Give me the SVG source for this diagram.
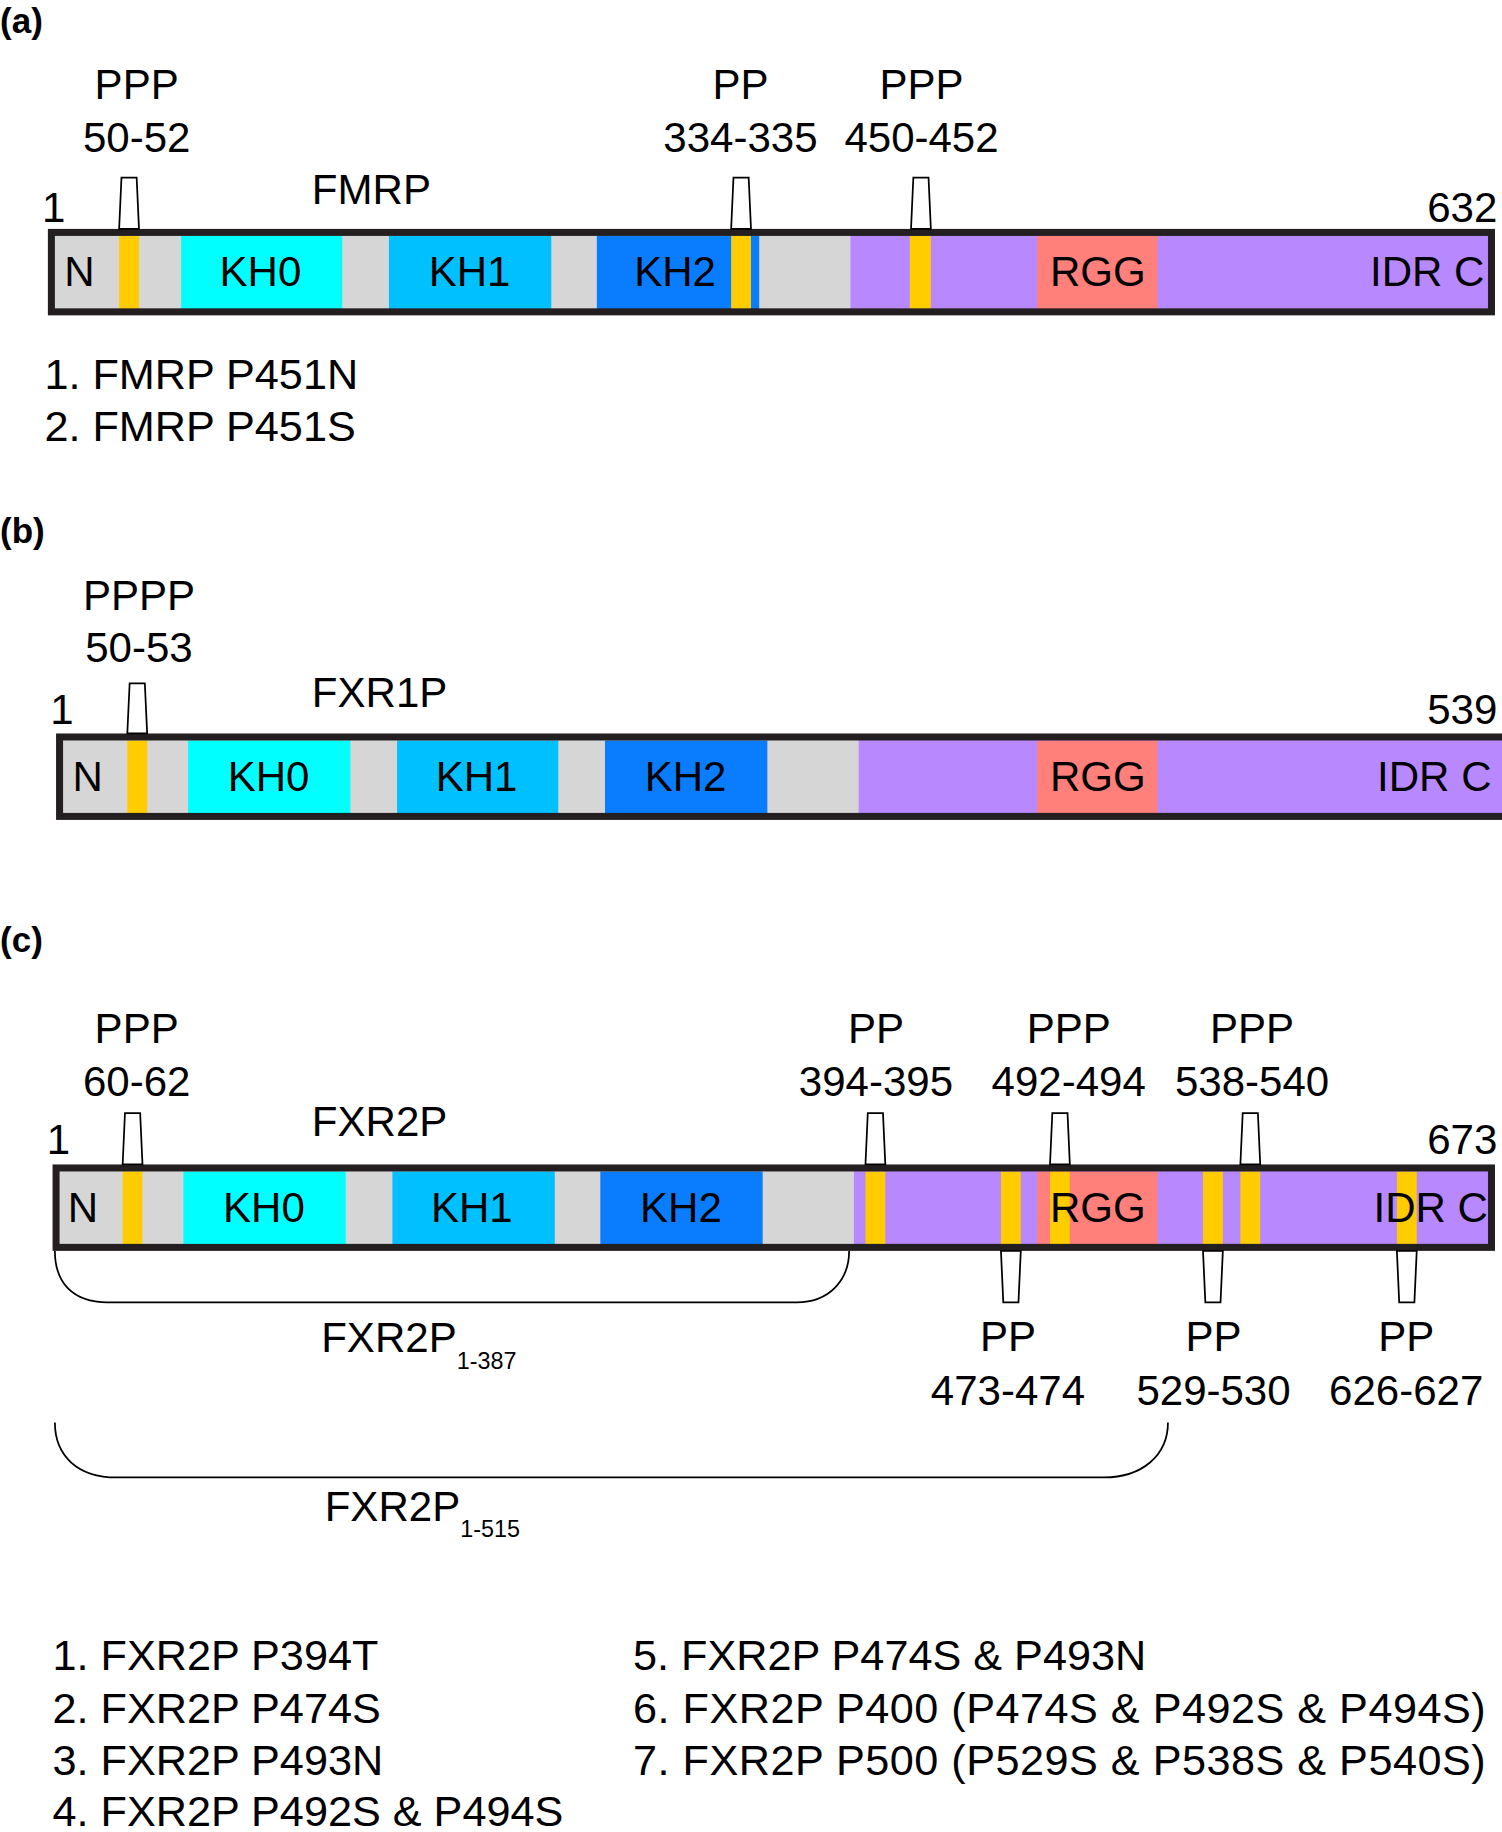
<svg xmlns="http://www.w3.org/2000/svg" width="1502" height="1832" viewBox="0 0 1502 1832">
<style>
text{font-family:"Liberation Sans",Arial,sans-serif;font-size:36px;fill:#000}
.m{text-anchor:middle}.e{text-anchor:end}
.p{font-weight:bold;font-size:30px}
.l{font-size:37px}
.bar{fill:none;stroke:#231f20;stroke-width:6}
.g{fill:#d6d6d6}.y{fill:#ffcc00}.k0{fill:#00ffff}.k1{fill:#00c0ff}.k2{fill:#0a7dff}.pu{fill:#b888ff}.r{fill:#ff7f7a}
.f{fill:#fff;stroke:#000;stroke-width:1.5}
.br{fill:none;stroke:#000;stroke-width:1.5}
.s{font-size:20px}
</style>
<rect width="1502" height="1832" fill="#fff"/>
<g transform="scale(1.16796)">
<g id="panel-a">
<text class="p" x="0" y="28">(a)</text>
<text class="m" x="117" y="85">PPP</text><text class="m" x="117" y="130">50-52</text>
<text class="m" x="634" y="85">PP</text><text class="m" x="634" y="130">334-335</text>
<text class="m" x="789" y="85">PPP</text><text class="m" x="789" y="130">450-452</text>
<text class="m" x="318" y="175">FMRP</text>
<text x="36" y="190">1</text><text class="e" x="1282" y="190">632</text>
<rect class="g" x="44" y="199" width="684" height="68"/>
<rect class="k0" x="155" y="202" width="138" height="63"/>
<rect class="k1" x="333" y="202" width="139" height="63"/>
<rect class="k2" x="511" y="202" width="139" height="63"/>
<rect class="pu" x="728" y="199" width="549" height="68"/>
<rect class="r" x="888" y="202" width="103" height="63"/>
<rect class="y" x="102" y="202" width="17" height="63"/>
<rect class="y" x="626" y="202" width="17" height="63"/>
<rect class="y" x="779" y="202" width="18" height="63"/>
<rect class="bar" x="44" y="199" width="1233" height="68"/>
<path class="f" d="M102,196 L104,152 L117,152 L119,196Z"/>
<path class="f" d="M626,196 L628,152 L641,152 L643,196Z"/>
<path class="f" d="M780,196 L782,152 L795,152 L797,196Z"/>
<text x="68" y="245" class="m">N</text><text class="m" x="223" y="245">KH0</text><text class="m" x="402" y="245">KH1</text><text class="m" x="578" y="245">KH2</text><text class="m" x="940" y="245">RGG</text><text class="e" x="1271" y="245">IDR  C</text>
<text class="l" x="38" y="333">1. FMRP P451N</text><text class="l" x="38" y="378">2. FMRP P451S</text>
</g>
<g id="panel-b">
<text class="p" x="0" y="465">(b)</text>
<text class="m" x="119" y="522">PPPP</text><text class="m" x="119" y="567">50-53</text>
<text class="m" x="325" y="605">FXR1P</text>
<text x="43" y="620">1</text><text class="e" x="1282" y="620">539</text>
<rect class="g" x="51" y="631" width="684" height="68"/>
<rect class="k0" x="161" y="634" width="139" height="63"/>
<rect class="k1" x="340" y="634" width="138" height="63"/>
<rect class="k2" x="518" y="634" width="139" height="63"/>
<rect class="pu" x="735" y="631" width="560" height="68"/>
<rect class="r" x="888" y="634" width="103" height="63"/>
<rect class="y" x="109" y="634" width="17" height="63"/>
<rect class="bar" x="51" y="631" width="1245" height="68"/>
<path class="f" d="M109,628 L111,585 L124,585 L126,628Z"/>
<text x="75" y="677" class="m">N</text><text class="m" x="230" y="677">KH0</text><text class="m" x="408" y="677">KH1</text><text class="m" x="587" y="677">KH2</text><text class="m" x="940" y="677">RGG</text><text class="e" x="1277" y="677">IDR  C</text>
</g>
<g id="panel-c">
<text class="p" x="0" y="815">(c)</text>
<text class="m" x="117" y="893">PPP</text><text class="m" x="117" y="938">60-62</text>
<text class="m" x="750" y="893">PP</text><text class="m" x="750" y="938">394-395</text>
<text class="m" x="915" y="893">PPP</text><text class="m" x="915" y="938">492-494</text>
<text class="m" x="1072" y="893">PPP</text><text class="m" x="1072" y="938">538-540</text>
<text class="m" x="325" y="973">FXR2P</text>
<text x="40" y="988">1</text><text class="e" x="1282" y="988">673</text>
<rect class="g" x="48" y="1000" width="683" height="68"/>
<rect class="k0" x="157" y="1003" width="139" height="63"/>
<rect class="k1" x="336" y="1003" width="139" height="63"/>
<rect class="k2" x="514" y="1003" width="139" height="63"/>
<rect class="pu" x="731" y="1000" width="546" height="68"/>
<rect class="r" x="888" y="1003" width="103" height="63"/>
<rect class="y" x="105" y="1003" width="17" height="63"/>
<rect class="y" x="741" y="1003" width="17" height="63"/>
<rect class="y" x="857" y="1003" width="17" height="63"/>
<rect class="y" x="899" y="1003" width="17" height="63"/>
<rect class="y" x="1030" y="1003" width="17" height="63"/>
<rect class="y" x="1062" y="1003" width="17" height="63"/>
<rect class="y" x="1196" y="1003" width="17" height="63"/>
<rect class="bar" x="48" y="1000" width="1229" height="68"/>
<path class="f" d="M105,997 L107,953 L120,953 L122,997Z"/>
<path class="f" d="M741,997 L743,953 L756,953 L758,997Z"/>
<path class="f" d="M899,997 L901,953 L914,953 L916,997Z"/>
<path class="f" d="M1062,997 L1064,953 L1077,953 L1079,997Z"/>
<path class="f" d="M857,1071 L859,1115 L872,1115 L874,1071Z"/>
<path class="f" d="M1030,1071 L1032,1115 L1045,1115 L1047,1071Z"/>
<path class="f" d="M1196,1071 L1198,1115 L1211,1115 L1213,1071Z"/>
<text x="71" y="1046" class="m">N</text><text class="m" x="226" y="1046">KH0</text><text class="m" x="404" y="1046">KH1</text><text class="m" x="583" y="1046">KH2</text><text class="m" x="940" y="1046">RGG</text><text class="e" x="1274" y="1046">IDR  C</text>
<text class="m" x="863" y="1157">PP</text><text class="m" x="863" y="1203">473-474</text>
<text class="m" x="1039" y="1157">PP</text><text class="m" x="1039" y="1203">529-530</text>
<text class="m" x="1204" y="1157">PP</text><text class="m" x="1204" y="1203">626-627</text>
</g>
<g id="connectors">
<path class="br" d="M47,1071 C47,1098 62,1115 92,1115 L682,1115 C710,1115 727,1096 727,1071"/>
<path class="br" d="M47,1218 C47,1246 66,1265 100,1265 L945,1265 C978,1265 1000,1246 1000,1218"/>
</g>
<g id="brackets-labels">
<text x="275" y="1158">FXR2P<tspan class="s" dy="14">1-387</tspan></text>
<text x="278" y="1302">FXR2P<tspan class="s" dy="14">1-515</tspan></text>
</g>
<g id="list">
<text class="l" x="45" y="1430">1. FXR2P P394T</text>
<text class="l" x="45" y="1475">2. FXR2P P474S</text>
<text class="l" x="45" y="1520">3. FXR2P P493N</text>
<text class="l" x="45" y="1563">4. FXR2P P492S &amp; P494S</text>
<text class="l" x="542" y="1430">5. FXR2P P474S &amp; P493N</text>
<text class="l" x="542" y="1475" textLength="730">6. FXR2P P400 (P474S &amp; P492S &amp; P494S)</text>
<text class="l" x="542" y="1520" textLength="730">7. FXR2P P500 (P529S &amp; P538S &amp; P540S)</text>
</g>
</g>
</svg>
